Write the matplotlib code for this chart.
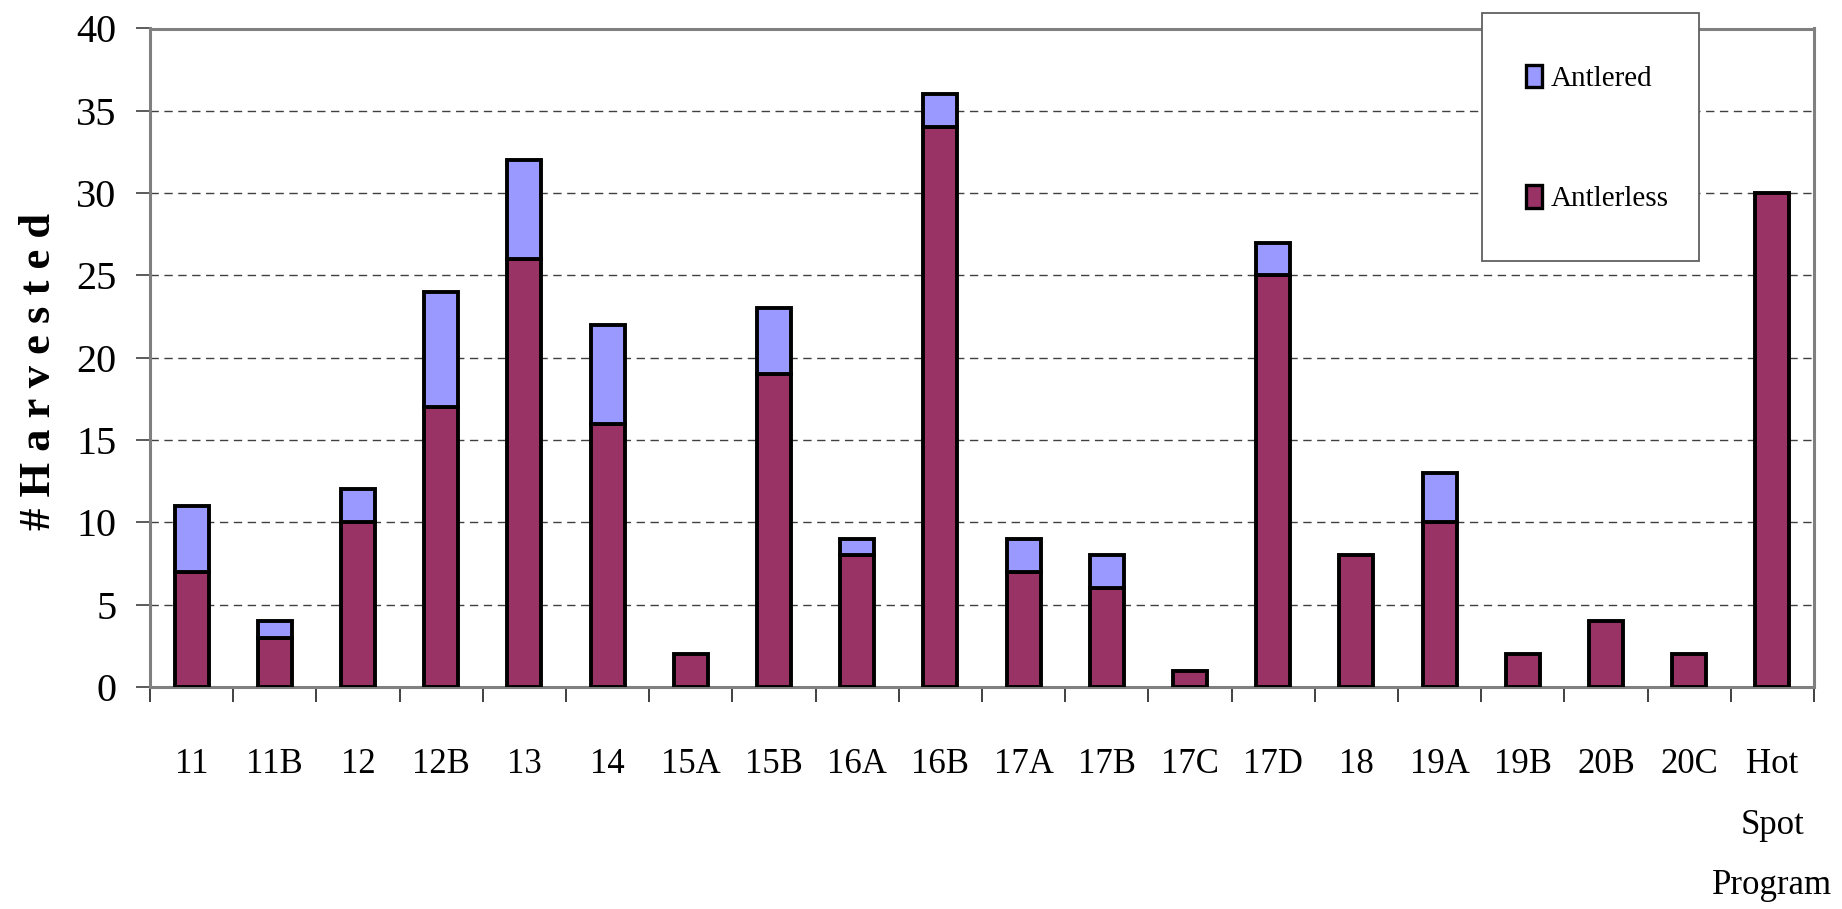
import numpy as np
import matplotlib.pyplot as plt
from matplotlib.patches import Rectangle, Patch
from matplotlib.ticker import FixedLocator

plt.rcParams['font.family'] = ['Liberation Serif', 'DejaVu Serif']

units = ['11', '11B', '12', '12B', '13', '14', '15A', '15B', '16A', '16B',
         '17A', '17B', '17C', '17D', '18', '19A', '19B', '20B', '20C',
         'Hot\nSpot\nProgram']
antlerless = [7, 3, 10, 17, 26, 16, 2, 19, 8, 34, 7, 6, 1, 25, 8, 10, 2, 4, 2, 30]
antlered = [4, 1, 2, 7, 6, 6, 0, 4, 1, 2, 2, 2, 0, 2, 0, 3, 0, 0, 0, 0]
yticks = [0, 5, 10, 15, 20, 25, 30, 35, 40]

c_less = '#993366'
c_ant = '#9999FF'

fig = plt.figure(figsize=(18.42, 9.09), dpi=100)
ax = fig.add_axes([150/1842, 1-687/909, (1814-150)/1842, (687-28.5)/909])

x = np.arange(len(units))
w = 0.41
ax.bar(x, antlerless, w, color=c_less, edgecolor='black', linewidth=2.8, zorder=3)
ant = np.array(antlered)
mask = ant > 0
ax.bar(x[mask], ant[mask], w, bottom=np.array(antlerless)[mask], color=c_ant,
       edgecolor='black', linewidth=2.8, zorder=3)

ax.set_xlim(-0.5, len(units) - 0.5)
ax.set_ylim(0, 40)
ax.set_yticks(yticks)
ax.set_yticklabels([str(v) for v in yticks], fontsize=29)
ax.tick_params(axis='y', length=10, width=1.2, color='#404040', pad=14)

ax.set_xticks(x)
ax.set_xticklabels(units, fontsize=25, linespacing=2.1, va='top')
ax.tick_params(axis='x', which='major', length=0, pad=44)
ax.xaxis.set_minor_locator(FixedLocator(np.arange(-0.5, len(units), 1)))
ax.tick_params(axis='x', which='minor', length=11, width=1.2, color='#202020')

for yv in yticks[1:-1]:
    ax.axhline(yv, color='#404040', linewidth=1.0, linestyle=(0, (6, 4)), zorder=1)

for s in ['left', 'top', 'right', 'bottom']:
    ax.spines[s].set_color('#808080')
    ax.spines[s].set_linewidth(2.2)

fig.text(39/1842, 1-371/909, '# H a r v e s t e d', rotation=90, fontsize=32,
         fontweight='bold', ha='center', va='center')

# legend box, sitting over the top edge of the plot
lx0, lx1, ly0, ly1 = 1482/1842, 1699/1842, 1-261/909, 1-13/909
fig.patches.append(Rectangle((lx0, ly0), lx1-lx0, ly1-ly0, transform=fig.transFigure,
                             facecolor='white', edgecolor='#606060', linewidth=1.3, zorder=5))
handles = [Patch(facecolor=c_ant, edgecolor='black', linewidth=2.4, label='Antlered'),
           Patch(facecolor=c_less, edgecolor='black', linewidth=2.4, label='Antlerless')]
leg = fig.legend(handles=handles, loc='upper left', bbox_to_anchor=(1511/1842, 1-50/909),
                 frameon=False, fontsize=21, handlelength=0.55, handleheight=0.8,
                 handletextpad=0.3, labelspacing=3.2, borderpad=0)
leg.set_zorder(6)

fig.savefig('out.png', dpi=100)
